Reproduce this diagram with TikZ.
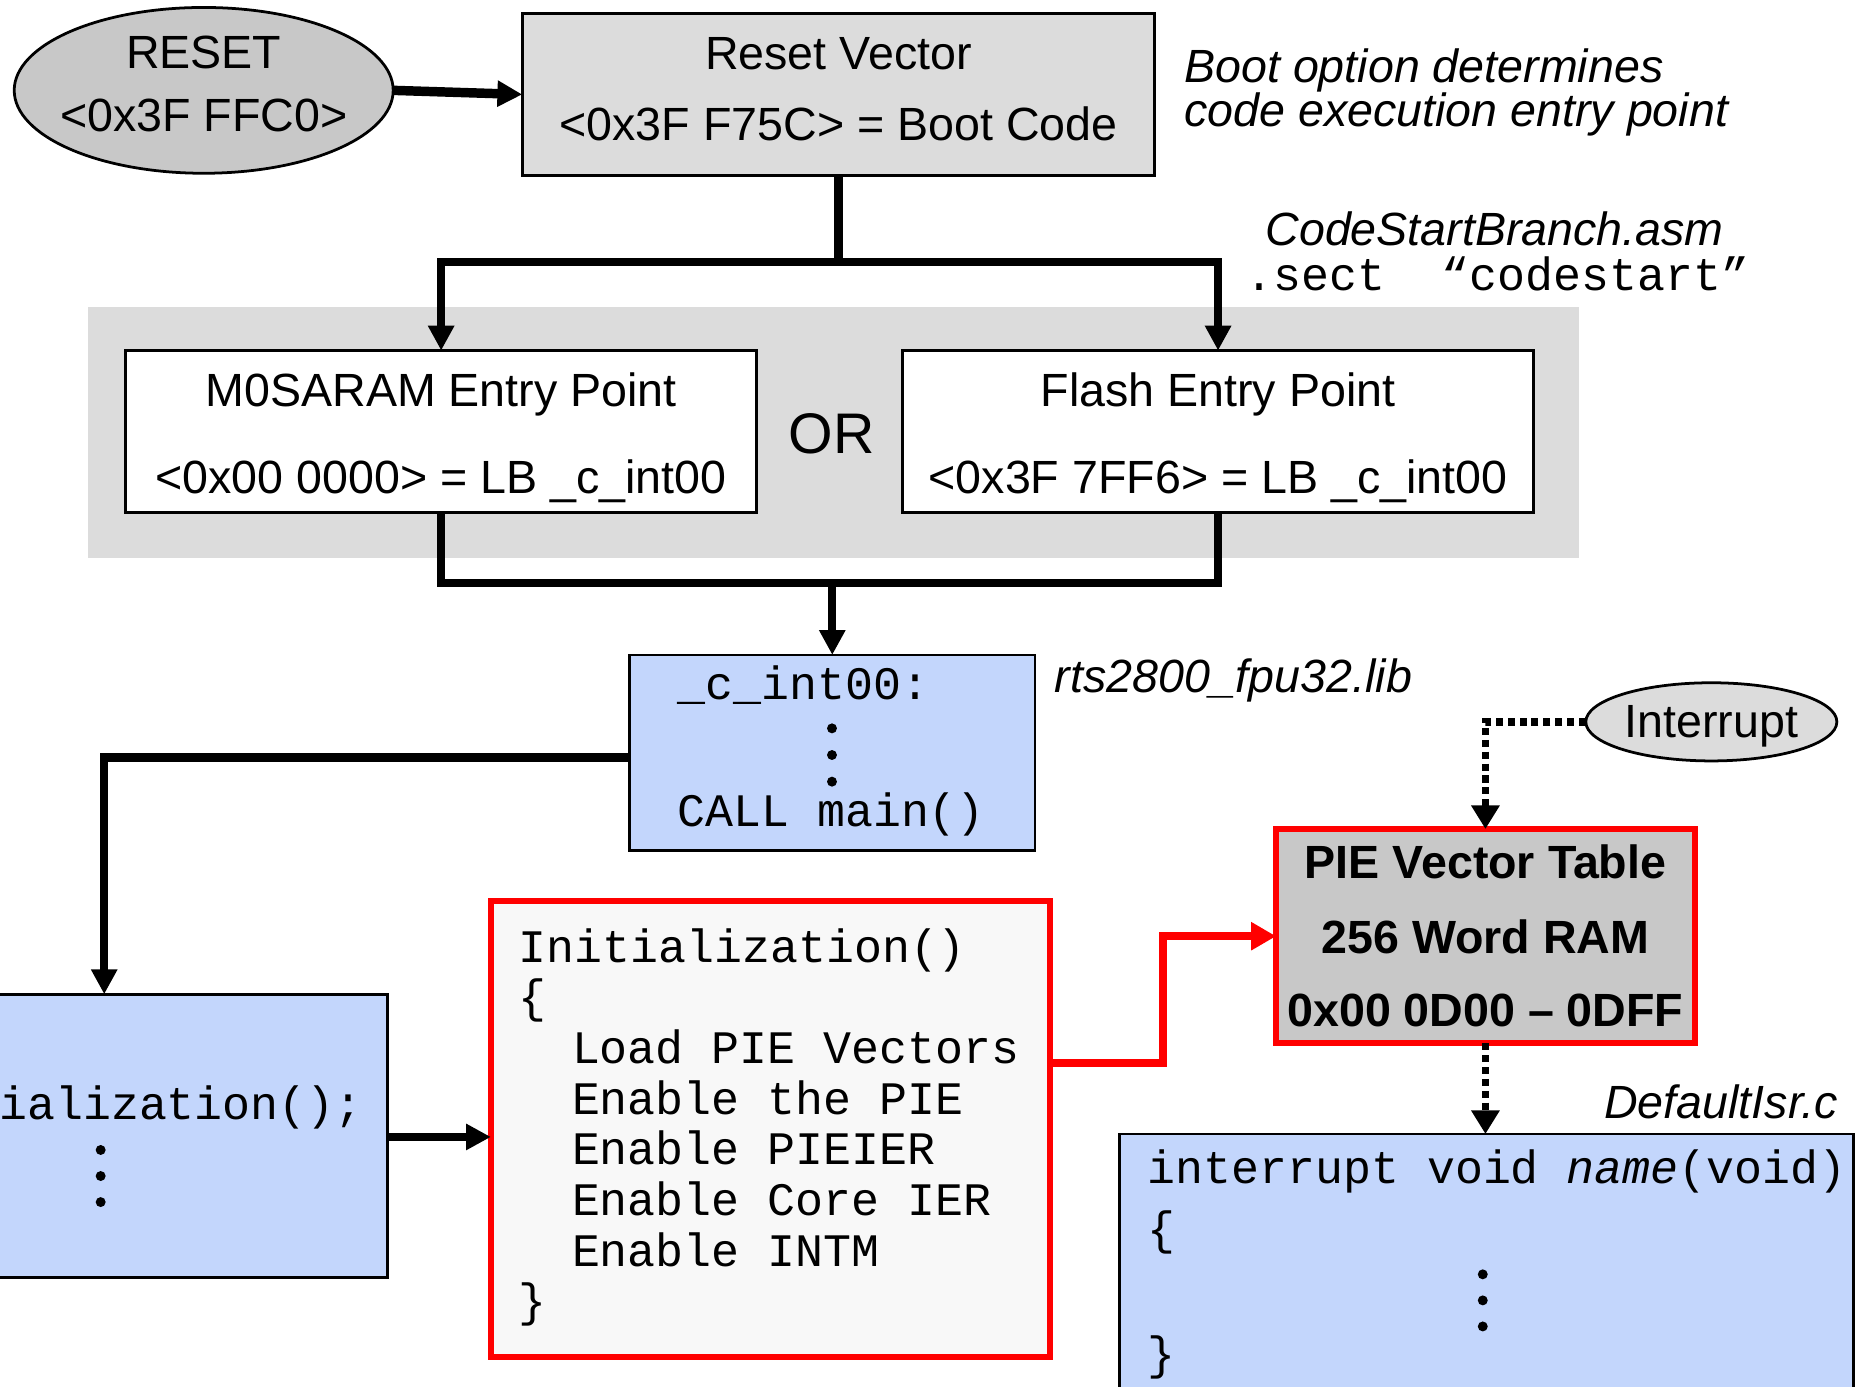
\documentclass[tikz,border=0pt]{standalone}
\usepackage{fontspec}
\setmainfont{Liberation Sans}
\setmonofont{Liberation Mono}
\usetikzlibrary{arrows.meta,shapes.geometric}
\definecolor{boxgray}{HTML}{DCDCDC}
\definecolor{ovalgray}{HTML}{C8C8C8}
\definecolor{lblue}{HTML}{C3D6FC}
\definecolor{initbg}{HTML}{F8F8F8}
\definecolor{pired}{HTML}{FF0000}
\begin{document}
\begin{tikzpicture}[x=0.6pt,y=-0.6pt, line join=miter,
  lbl/.style={inner sep=0pt, outer sep=0pt, font=\fontsize{23.6}{28}\selectfont, anchor=base},
  code/.style={inner sep=0pt, outer sep=0pt, font=\fontsize{23.6}{28}\selectfont\ttfamily, anchor=base west},
  boxnode/.style={draw=black, line width=1.4pt, rectangle, inner sep=0pt, outer sep=0pt},
  ovalnode/.style={draw=black, line width=1.4pt, ellipse, inner sep=0pt, outer sep=0pt},
  redbox/.style={draw=pired, line width=3pt, rectangle, inner sep=0pt, outer sep=0pt},
  flowline/.style={line width=4.2pt},
  flow/.style={line width=4.2pt, -{Triangle[length=12.6pt,width=12.6pt]}},
  redflow/.style={draw=pired, line width=4.2pt, -{Triangle[length=12.6pt,width=13.5pt]}},
  dotflow/.style={line width=4pt, dash pattern=on 3.6pt off 2.4pt, -{Triangle[length=12pt,width=13.8pt]}},
  dotmark/.style={fill=black}
]
\useasboundingbox (0,0) rectangle (1568,1171);
\clip (0,0) rectangle (1568,1171);
\fill[white] (0,0) rectangle (1568,1171);

% background panel
\fill[boxgray] (74,259) rectangle (1333,471);

% boxes
\node[ovalnode, fill=ovalgray, minimum width=192pt, minimum height=84pt] (reset) at (172,76.3) {};
\node[boxnode, fill=boxgray, minimum width=320.4pt, minimum height=81.9pt] (rv) at (708,79.75) {};
\node[boxnode, fill=white, minimum width=319.8pt, minimum height=82.2pt] (m0) at (372.5,364.5) {};
\node[boxnode, fill=white, minimum width=319.8pt, minimum height=82.2pt] (fl) at (1028.5,364.5) {};
\node[boxnode, fill=lblue, minimum width=205.5pt, minimum height=99pt] (cint) at (702.75,635.5) {};
\node[boxnode, fill=lblue, minimum width=256.2pt, minimum height=143.4pt] (main) at (113.5,959) {};
\node[redbox, fill=initbg, minimum width=283.2pt, minimum height=231pt] (init) at (650.5,953) {};
\node[redbox, fill=ovalgray, minimum width=212.1pt, minimum height=108.6pt] (pie) at (1254.25,790.5) {};
\node[ovalnode, fill=boxgray, minimum width=127.2pt, minimum height=39.6pt] (intr) at (1445,609.5) {};
\node[boxnode, fill=lblue, minimum width=371.7pt, minimum height=181.5pt] (isr) at (1255.25,1108.75) {};

% connectors
\coordinate (j1) at (708,221);
\coordinate (j2) at (702.75,492);
\coordinate (rbend) at (982,897.5);
\draw[line width=4.8pt, -{Triangle[length=12.6pt,width=12.6pt]}] (reset.east) -- (rv.west);
\draw[flowline] (rv.south) -- (j1);
\draw[flow] (j1) -| (m0.north);
\draw[flow] (j1) -| (fl.north);
\draw[flowline] (m0.south) -- (m0.south |- j2) -- (fl.south |- j2) -- (fl.south);
\draw[flow] (j2) -- (cint.north);
\draw[flow] (cint.west |- 0,639.5) -| (88,0 |- main.north);
\draw[flow] (main.east |- 0,960) -- (init.west |- 0,960);
\draw[redflow] (init.east |- rbend) -- (rbend) |- (pie.west);
\draw[dotflow] (intr.west) -| (pie.north);
\draw[dotflow] (pie.south) -- (pie.south |- isr.north);

% texts
\node[lbl] (t1) at (172,58) {RESET};
\node[lbl] (t2) at (172,111) {<0x3F FFC0>};
\node[lbl] (t3) at (708,59) {Reset Vector};
\node[lbl] (t4) at (708,118.5) {<0x3F F75C> = Boot Code};
\node[lbl, anchor=base west, font=\fontsize{23.6}{28}\selectfont\itshape] (t5) at (1000,70) {Boot option determines};
\node[lbl, anchor=base west, font=\fontsize{23.6}{28}\selectfont\itshape] (t6) at (1000,107) {code execution entry point};
\node[lbl, font=\fontsize{23.6}{28}\selectfont\itshape] (t7) at (1262,207) {CodeStartBranch.asm};
\node[code] (t8) at (1052,245) {.sect\ \ “codestart”};
\node[lbl] (t9) at (372.5,343.5) {M0SARAM Entry Point};
\node[lbl] (t10) at (372.5,416.5) {<0x00 0000> = LB \_c\_int00};
\node[lbl] (t11) at (1028.5,343.5) {Flash Entry Point};
\node[lbl] (t12) at (1028.5,416.5) {<0x3F 7FF6> = LB \_c\_int00};
\node[inner sep=0pt, font=\fontsize{29}{34}\selectfont] (tor) at (702,366) {OR};
\node[lbl, anchor=base west, font=\fontsize{23.6}{28}\selectfont\itshape] (t13) at (890.5,585) {rts2800\_fpu32.lib};
\node[code] (t14) at (572,591) {\_c\_int00:};
\node[code] (t15) at (572,698) {CALL main()};
\foreach \yy in {615,637.5,660} \fill[dotmark] (702.5,\yy) circle[radius=4.2];
\node[code] (t16) at (-95,945) {Initialization();};
\foreach \yy in {971,993,1015} \fill[dotmark] (85,\yy) circle[radius=4.2];
\node[code] (i1) at (438,812.5) {Initialization()};
\node[code] (i2) at (438,855.2) {\{};
\node[code] (i3) at (483,898) {Load PIE Vectors};
\node[code] (i4) at (483,940.7) {Enable the PIE};
\node[code] (i5) at (483,983.5) {Enable PIEIER};
\node[code] (i6) at (483,1026.2) {Enable Core IER};
\node[code] (i7) at (483,1069) {Enable INTM};
\node[code] (i8) at (438,1111.7) {\}};
\node[lbl, font=\fontsize{23.6}{28}\selectfont\bfseries] (p1) at (1254.25,742) {PIE Vector Table};
\node[lbl, font=\fontsize{23.6}{28}\selectfont\bfseries] (p2) at (1254.25,805) {256 Word RAM};
\node[lbl, font=\fontsize{23.6}{28}\selectfont\bfseries] (p3) at (1254.25,866.5) {0x00 0D00 – 0DFF};
\node[lbl] (t17) at (1445,623) {Interrupt};
\node[lbl, anchor=base east, font=\fontsize{23.6}{28}\selectfont\itshape] (t18) at (1552,944) {DefaultIsr.c};
\node[code] (s1) at (969,999) {interrupt void \textit{name}(void)};
\node[code] (s2) at (969,1051) {\{};
\node[code] (s3) at (969,1156) {\}};
\foreach \yy in {1076,1098,1120} \fill[dotmark] (1252,\yy) circle[radius=4.2];
\end{tikzpicture}
\end{document}
